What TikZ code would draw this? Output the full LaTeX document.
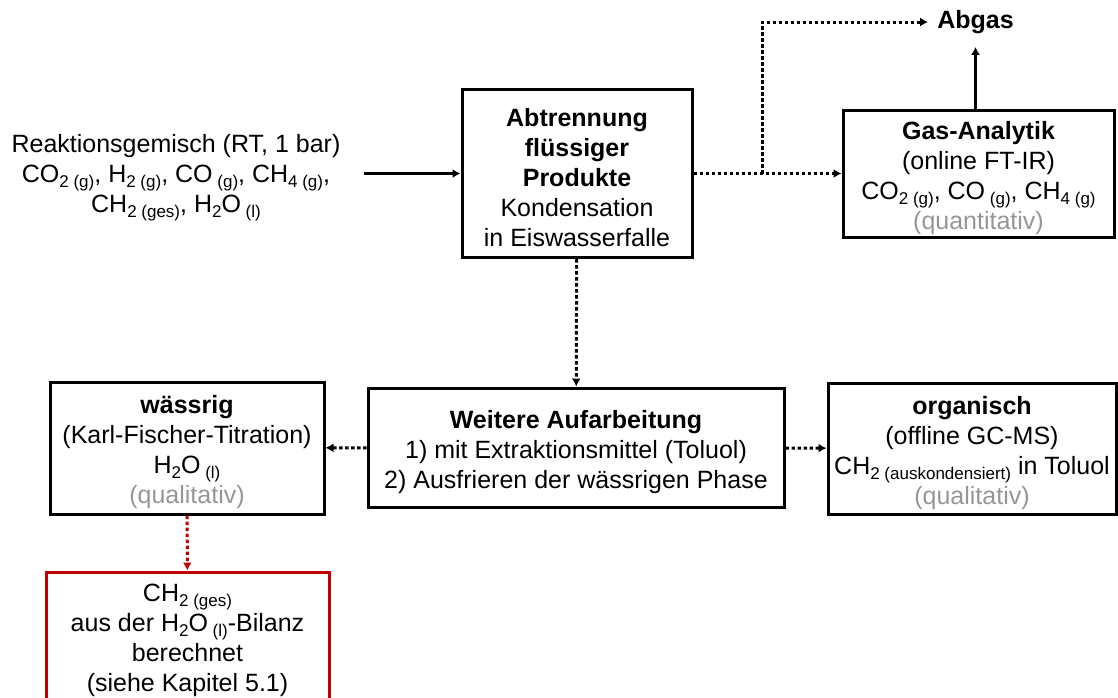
\documentclass[tikz,border=0pt]{standalone}
\usepackage{fontspec}
\setmainfont{Liberation Sans}
\usetikzlibrary{arrows.meta}
\definecolor{grau}{RGB}{150,150,150}
\definecolor{dunkelrot}{RGB}{192,0,0}
\newcommand{\tief}[1]{\raisebox{-5pt}{\fontsize{17}{17}\selectfont #1}}
\newcommand{\oben}{\rule{0pt}{27pt}}
\tikzset{
    kasten/.style={draw,line width=3pt,align=center,inner sep=2pt},
    pfeil/.style={line width=2.7pt,-{Latex[length=8pt,width=9pt]}},
    punkt/.style={pfeil,line width=3pt,dash pattern=on 3.5pt off 2.5pt}
}
\begin{document}
\begin{tikzpicture}[x=1pt,y=-1pt,font=\fontsize{25}{30}\selectfont]
        \useasboundingbox(0,0)rectangle(1118,697);
        \clip(0,0)rectangle(1118,697);
        \node[align=center,inner sep=0pt](feed)at(176,178){Reaktionsgemisch (RT, 1 bar)\\CO\tief{2 (g)}, H\tief{2 (g)}, CO\tief{~(g)}, CH\tief{4 (g)},\\CH\tief{2 (ges)}, H\tief{2}O\tief{~(l)}};
        \node[kasten,minimum width=230pt,minimum height=168pt](abtr)at(577,173.5){\oben\textbf{Abtrennung}\\\textbf{flüssiger}\\\textbf{Produkte}\\Kondensation\\in Eiswasserfalle};
        \node[kasten,minimum width=271pt,minimum height=127pt](gas)at(978.5,173.5){\oben\textbf{Gas-Analytik}\\(online FT-IR)\\CO\tief{2 (g)}, CO\tief{~(g)}, CH\tief{4 (g)}\\\textcolor{grau}{(quantitativ)}};
        \node[font=\fontsize{25}{30}\selectfont\bfseries,inner xsep=9pt,inner ysep=13pt](abgas)at(975.5,22){Abgas};
        \node[kasten,minimum width=416pt,minimum height=119pt](weiter)at(576,447.5){\oben\textbf{Weitere Aufarbeitung}\\1) mit Extraktionsmittel (Toluol)\\2) Ausfrieren der wässrigen Phase};
        \node[kasten,minimum width=274pt,minimum height=132pt](waess)at(187,448){\oben\textbf{wässrig}\\(Karl-Fischer-Titration)\\H\tief{2}O\tief{~(l)}\\\textcolor{grau}{(qualitativ)}};
        \node[kasten,minimum width=288pt,minimum height=131pt](org)at(972,448.5){\oben\textbf{organisch}\\(offline GC-MS)\\CH\tief{2 (auskondensiert)} in Toluol\\\textcolor{grau}{(qualitativ)}};
        \node[kasten,draw=dunkelrot,minimum width=283pt,minimum height=128pt](rot)at(187.5,636){\oben CH\tief{2 (ges)}\\aus der H\tief{2}O\tief{~(l)}-Bilanz\\berechnet\\(siehe Kapitel 5.1)};
        \coordinate(abzweig)at(762,173.5);
        % Verbindungen
        \draw[pfeil]([xshift=23pt]feed.east|-abtr)--(abtr);
        \draw[punkt](abtr)--(gas);
        \draw[punkt](abzweig)|-(abgas);
        \draw[pfeil](gas.north-|abgas)--(abgas);
        \draw[punkt](abtr)--(weiter);
        \draw[punkt](weiter)--(waess);
        \draw[punkt](weiter)--(org);
        \draw[punkt,dunkelrot](waess)--(rot);
    \end{tikzpicture}
\end{document}
